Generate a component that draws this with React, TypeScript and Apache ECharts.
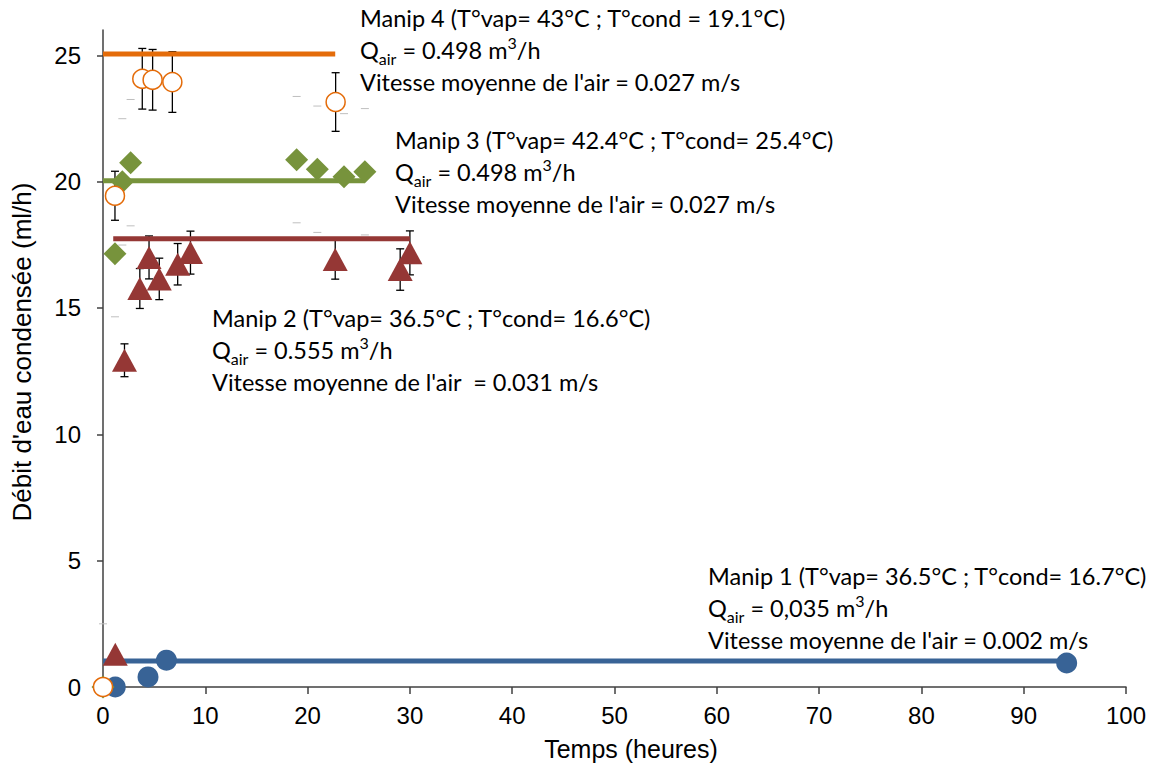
import React, { useEffect, useRef } from "react";
import * as echarts from "echarts";

// ---- Data ----
const xTicks = [0, 10, 20, 30, 40, 50, 60, 70, 80, 90, 100];
const yTicks = [0, 5, 10, 15, 20, 25];

// Manip 1 (blue circles)
const manip1X = [1.2, 4.4, 6.2, 94.2];
const manip1Y = [0, 0.4, 1.06, 0.95];
const manip1Avg = 1.03;
const manip1Span = [0, 94.2];

// Manip 2 (red triangles)
const manip2X = [1.2, 2.1, 3.6, 4.5, 5.5, 7.3, 8.55, 22.7, 29.05, 30.0];
const manip2Y = [1.3, 12.93, 15.77, 17.0, 16.15, 16.73, 17.19, 16.92, 16.52, 17.18];
const manip2Err = [0, 0.65, 0.79, 0.85, 0.82, 0.82, 0.85, 0.78, 0.82, 0.87];
const manip2Avg = 17.74;
const manip2Span = [1.0, 30.0];

// Manip 3 (green diamonds)
const manip3X = [0, 1.17, 1.89, 2.7, 18.93, 20.95, 23.56, 25.6];
const manip3Y = [0, 17.15, 19.99, 20.75, 20.87, 20.49, 20.19, 20.39];
const manip3Err = [2.5, 2.5, 2.5, 2.5, 2.5, 2.5, 2.5, 2.5];
const manip3Avg = 20.03;
const manip3Span = [0, 25.6];

// Manip 4 (orange open circles)
const manip4X = [0, 1.17, 3.84, 4.85, 6.78, 22.74];
const manip4Y = [0, 19.44, 24.07, 24.03, 23.94, 23.15];
const manip4Err = [0, 0.97, 1.2, 1.2, 1.2, 1.16];
const manip4Avg = 25.05;
const manip4Span = [0, 22.7];

const BLUE = "#386396";
const RED = "#953735";
const GREEN = "#77933C";
const ORANGE = "#E46C0A";

const Y_MAX = 26;

function errorBars(xs: number[], ys: number[], errs: number[], color: string, width: number, capW: number, stem: boolean, z: number) {
  return {
    type: "custom",
    z,
    silent: true,
    data: xs.map((x, i) => [x, ys[i] - errs[i], ys[i] + errs[i]]),
    encode: { x: 0, y: [1, 2] },
    renderItem: (params: any, api: any) => {
      const x = api.value(0);
      const lo = api.value(1);
      const hi = api.value(2);
      if (hi - lo <= 0) return null;
      const style = { stroke: color, lineWidth: width };
      const children: any[] = [];
      const cLo = Math.max(lo, 0);
      const cHi = Math.min(hi, Y_MAX);
      const pLo = api.coord([x, cLo]);
      const pHi = api.coord([x, cHi]);
      if (stem) {
        children.push({ type: "line", shape: { x1: pLo[0], y1: pLo[1], x2: pHi[0], y2: pHi[1] }, style });
      }
      if (lo >= 0) {
        const p = api.coord([x, lo]);
        children.push({ type: "line", shape: { x1: p[0] - capW / 2, y1: p[1], x2: p[0] + capW / 2, y2: p[1] }, style });
      }
      if (hi <= Y_MAX) {
        const p = api.coord([x, hi]);
        children.push({ type: "line", shape: { x1: p[0] - capW / 2, y1: p[1], x2: p[0] + capW / 2, y2: p[1] }, style });
      }
      return { type: "group", children };
    },
  };
}

function avgLine(span: number[], v: number, color: string, z: number) {
  return {
    type: "line",
    z,
    silent: true,
    showSymbol: false,
    symbol: "none",
    data: [[span[0], v], [span[1], v]],
    lineStyle: { color, width: 5, cap: "butt" },
  };
}

const ANN_FONT = "Lato, 'Open Sans', sans-serif";
const ANN_SIZE = 23.5;
const rich = {
  n: { fontFamily: ANN_FONT, fontSize: ANN_SIZE, lineHeight: 32, fill: "#000", color: "#000" },
  sub: { fontFamily: ANN_FONT, fontSize: 16, lineHeight: 14, verticalAlign: "bottom", fill: "#000", color: "#000" },
  sup: { fontFamily: ANN_FONT, fontSize: 16, lineHeight: 10, verticalAlign: "top", fill: "#000", color: "#000" },
};

function annotation(x: number, y: number, l1: string, q: string, l3: string) {
  return {
    type: "text",
    x,
    y,
    silent: true,
    style: {
      text: `{n|${l1}}\n{n|Q}{sub|air}{n| = ${q} m}{sup|3}{n|/h}\n{n|${l3}}`,
      rich,
      fontFamily: ANN_FONT,
      fontSize: ANN_SIZE,
      fill: "#000",
      align: "left",
      verticalAlign: "top",
    },
  };
}

export default function App() {
  const ref = useRef<HTMLDivElement>(null);
  useEffect(() => {
    if (!ref.current) return;
    const chart = echarts.init(ref.current, undefined, { renderer: "svg" });
    const axisLine = { show: true, lineStyle: { color: "#404040", width: 1.5 } };
    chart.setOption({
      animation: false,
      backgroundColor: "#fff",
      grid: { left: 103, right: 26, top: 30, bottom: 80, containLabel: false },
      xAxis: {
        type: "value",
        min: 0,
        max: 100,
        interval: 10,
        axisLine,
        axisTick: { show: true, inside: false, length: 7, lineStyle: { color: "#404040", width: 1.5 } },
        axisLabel: { color: "#000", fontFamily: "'Liberation Sans', Arial, sans-serif", fontSize: 24, margin: 16 },
        splitLine: { show: false },
      },
      yAxis: {
        type: "value",
        min: 0,
        max: Y_MAX,
        interval: 5,
        axisLine,
        axisTick: { show: true, inside: false, length: 6, customValues: yTicks, lineStyle: { color: "#404040", width: 1.5 } },
        axisLabel: { color: "#000", fontFamily: "'Liberation Sans', Arial, sans-serif", fontSize: 24, margin: 22, customValues: yTicks },
        splitLine: { show: false },
      },
      graphic: [
        annotation(360, 2, "Manip 4 (T°vap= 43°C ; T°cond = 19.1°C)", "0.498", "Vitesse moyenne de l'air = 0.027 m/s"),
        annotation(395, 124, "Manip 3 (T°vap= 42.4°C ; T°cond= 25.4°C)", "0.498", "Vitesse moyenne de l'air = 0.027 m/s"),
        annotation(212, 302, "Manip 2 (T°vap= 36.5°C ; T°cond= 16.6°C)", "0.555", "Vitesse moyenne de l'air  = 0.031 m/s"),
        annotation(708, 560, "Manip 1 (T°vap= 36.5°C ; T°cond= 16.7°C)", "0,035", "Vitesse moyenne de l'air = 0.002 m/s"),
        {
          type: "text",
          x: 631,
          y: 749,
          silent: true,
          style: {
            text: "Temps (heures)",
            fontFamily: "'Liberation Sans', Arial, sans-serif",
            fontSize: 25,
            fill: "#000",
            align: "center",
            verticalAlign: "middle",
          },
        },
        {
          type: "text",
          x: 22,
          y: 352,
          rotation: Math.PI / 2,
          silent: true,
          style: {
            text: "Débit d'eau condensée (ml/h)",
            fontFamily: "'Liberation Sans', Arial, sans-serif",
            fontSize: 26,
            fill: "#000",
            align: "center",
            verticalAlign: "middle",
          },
        },
      ],
      series: [
        errorBars(manip3X, manip3Y, manip3Err, "#BFBFBF", 1, 8, false, 1),
        errorBars(manip2X, manip2Y, manip2Err, "#000", 1.3, 8, true, 1),
        errorBars(manip4X, manip4Y, manip4Err, "#000", 1.3, 8, true, 1),
        avgLine(manip1Span, manip1Avg, BLUE, 2),
        avgLine(manip3Span, manip3Avg, GREEN, 2),
        avgLine(manip2Span, manip2Avg, RED, 2),
        avgLine(manip4Span, manip4Avg, ORANGE, 2),
        {
          type: "scatter",
          z: 3,
          symbol: "circle",
          symbolSize: 21,
          data: manip1X.map((x, i) => [x, manip1Y[i]]),
          itemStyle: { color: BLUE, opacity: 1 },
        },
        {
          type: "scatter",
          z: 3,
          symbol: "diamond",
          symbolSize: [23, 23],
          data: manip3X.map((x, i) => [x, manip3Y[i]]),
          itemStyle: { color: GREEN, opacity: 1 },
        },
        {
          type: "scatter",
          z: 3,
          symbol: "triangle",
          symbolSize: [25, 23],
          data: manip2X.map((x, i) => [x, manip2Y[i]]),
          itemStyle: { color: RED, opacity: 1 },
        },
        {
          type: "scatter",
          z: 4,
          symbol: "circle",
          symbolSize: 19,
          data: manip4X.map((x, i) => [x, manip4Y[i]]),
          itemStyle: { color: "#fff", borderColor: ORANGE, borderWidth: 1.5, opacity: 1 },
        },
      ],
    });
    return () => chart.dispose();
  }, []);
  return <div ref={ref} style={{ position: "fixed", left: 0, top: 0, width: 1152, height: 767 }} />;
}
